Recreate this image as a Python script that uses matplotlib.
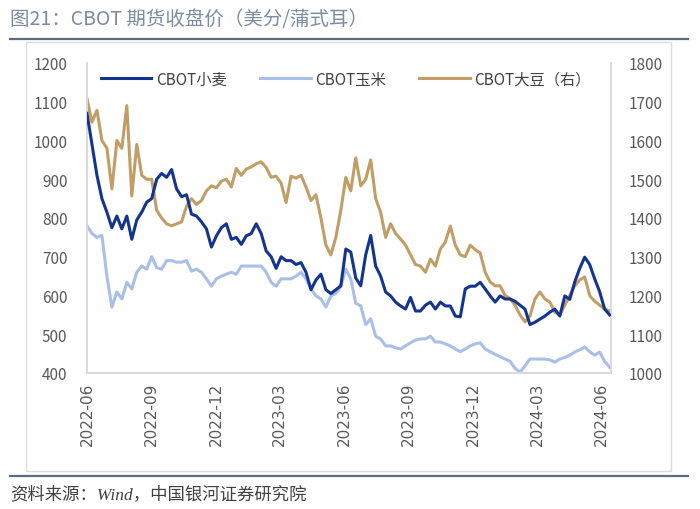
import numpy as np
import pandas as pd
import matplotlib.pyplot as plt
import matplotlib.dates as mdates
from matplotlib.patches import Rectangle
from matplotlib.lines import Line2D

plt.rcParams['font.family'] = ['Noto Sans CJK SC', 'DejaVu Sans']

# weekly closes, 2022-06-01 .. 2024-06-12
wheat = [
    1070, 990, 910, 850, 815, 775, 805, 772, 805, 745,
    795, 815, 841, 850, 900, 915, 905, 925, 875, 855,
    860, 810, 805, 790, 772, 725, 754, 775, 785, 745,
    750, 732, 754, 760, 785, 760, 715, 700, 670, 700,
    690, 690, 680, 685, 660, 615, 640, 655, 615, 605,
    615, 625, 720, 712, 645, 625, 705, 755, 676, 650,
    609, 599, 583, 573, 565, 595, 560, 560, 575, 583,
    565, 583, 573, 573, 547, 545, 617, 624, 624, 634,
    617, 599, 583, 599, 591, 591, 585, 575, 565, 525,
    531, 539, 547, 557, 565, 547, 599, 590, 635, 670,
    699, 680, 643, 610, 565, 550,
]
corn = [
    780, 760, 750, 755, 650, 570, 609, 591, 634, 617,
    660, 676, 668, 700, 672, 668, 690, 690, 686, 686,
    690, 663, 668, 660, 643, 624, 643, 650, 655, 660,
    655, 676, 676, 676, 676, 676, 660, 634, 624, 643,
    643, 643, 650, 660, 643, 617, 599, 591, 570, 599,
    605, 624, 668, 643, 580, 573, 525, 540, 495, 488,
    470, 470, 465, 462, 470, 478, 485, 488, 488, 495,
    480, 480, 475, 470, 462, 455, 462, 470, 475, 478,
    462, 455, 448, 442, 436, 430, 412, 402, 418, 436,
    436, 436, 436, 434, 428, 436, 440, 446, 454, 460,
    467, 455, 446, 454, 430, 415,
]
soybean = [
    1707, 1647, 1678, 1600, 1580, 1475, 1600, 1580, 1690, 1457,
    1590, 1510, 1500, 1500, 1420, 1400, 1385, 1380, 1385, 1390,
    1430, 1450, 1435, 1445, 1470, 1483, 1478, 1495, 1500, 1480,
    1528, 1510, 1526, 1532, 1540, 1545, 1530, 1505, 1508, 1490,
    1440, 1508, 1503, 1510, 1480, 1445, 1460, 1400, 1330, 1305,
    1350, 1420, 1505, 1470, 1555, 1483, 1500, 1550, 1450, 1415,
    1350, 1385, 1360, 1346, 1330, 1305, 1280, 1276, 1260, 1294,
    1276, 1320, 1338, 1379, 1330, 1305, 1300, 1330, 1318, 1310,
    1260, 1235, 1225, 1225, 1200, 1192, 1175, 1150, 1132, 1147,
    1191, 1209, 1191, 1183, 1157, 1150, 1175, 1200, 1225, 1240,
    1248, 1200, 1185, 1175, 1165, 1160,
]
dates = pd.date_range('2022-06-01', '2024-06-12', periods=len(wheat))
tick_dates = pd.to_datetime(['2022-06-01', '2022-09-01', '2022-12-01', '2023-03-01',
                             '2023-06-01', '2023-09-01', '2023-12-01', '2024-03-01',
                             '2024-06-01'])
tick_labels = [d.strftime('%Y-%m') for d in tick_dates]

c_wheat = '#14358f'
c_corn = '#a9bfe6'
c_soy = '#c39d66'
c_tick = '#595959'
c_spine = '#d9d9d9'

fig = plt.figure(figsize=(7, 5.1), dpi=100)

# header / footer decoration
fig.text(10 / 700, 1 - 19 / 510, '图21：CBOT 期货收盘价（美分/蒲式耳）', fontsize=14,
         color='#7b8ba1', va='center', ha='left', fontweight='light')
fig.add_artist(Line2D([10 / 700, 688 / 700], [1 - 40 / 510] * 2, color='#5d6b82', lw=1.6))
fig.add_artist(Rectangle((26 / 700, 1 - 472 / 510), 645 / 700, 429 / 510, fill=False,
                         edgecolor='#dcdcdc', lw=1.0))
fig.add_artist(Line2D([10 / 700, 688 / 700], [1 - 477 / 510] * 2, color='#5d6b82', lw=1.6))
fig.text(10 / 700, 1 - 495 / 510, '资料来源：Wind，中国银河证券研究院', fontsize=12.5,
         color='#404040', va='center', ha='left', style='italic',
         family=['Liberation Serif', 'Noto Sans CJK SC'])

ax = fig.add_axes([87 / 700, 1 - 374 / 510, (611 - 87) / 700, (374 - 64) / 510])
ax2 = ax.twinx()

l1, = ax.plot(dates, wheat, color=c_wheat, lw=2.2, label='CBOT小麦', zorder=3)
l2, = ax.plot(dates, corn, color=c_corn, lw=2.2, label='CBOT玉米', zorder=2)
l3, = ax2.plot(dates, soybean, color=c_soy, lw=2.2, label='CBOT大豆（右）')
ax.set_zorder(ax2.get_zorder() + 1)
ax.patch.set_visible(False)

ax.set_ylim(400, 1200)
ax.set_yticks(range(400, 1201, 100))
ax2.set_ylim(1000, 1800)
ax2.set_yticks(range(1000, 1801, 100))
ax.set_xlim(pd.Timestamp('2022-06-01'), pd.Timestamp('2024-06-14'))
ax.set_xticks(tick_dates)
ax.set_xticklabels(tick_labels, rotation=90, fontfamily='DejaVu Sans')

for a in (ax, ax2):
    a.spines['top'].set_visible(False)
    for s in ('left', 'right', 'bottom'):
        a.spines[s].set_color(c_spine)
        a.spines[s].set_linewidth(1.2)
    a.tick_params(length=0, colors=c_tick, labelsize=11)
ax.tick_params(axis='y', pad=14)
ax2.tick_params(axis='y', pad=13)
ax.tick_params(axis='x', pad=6, labelsize=11)

ax.legend(handles=[l1, l2, l3], loc='upper left', bbox_to_anchor=(0.0, 1.02), ncol=3,
          frameon=False, fontsize=11, handlelength=3.3, columnspacing=2.2,
          handletextpad=0.3, labelcolor='#404040')

fig.savefig('out.png', dpi=100)
